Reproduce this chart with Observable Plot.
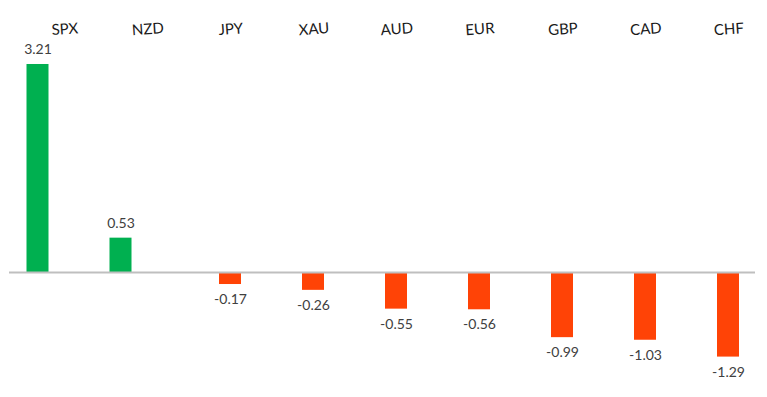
<!DOCTYPE html>
<html>
<head>
<meta charset="utf-8">
<script src="https://cdn.jsdelivr.net/npm/d3@7"></script>
<script src="https://cdn.jsdelivr.net/npm/@observablehq/plot@0.6"></script>
<style>
  html, body { margin: 0; padding: 0; background: #fff; }
  #chart { width: 767px; height: 397px; }
</style>
</head>
<body>
<div id="chart"></div>
<script>
const categories = ["SPX", "NZD", "JPY", "XAU", "AUD", "EUR", "GBP", "CAD", "CHF"];
const values = [3.21, 0.53, -0.17, -0.26, -0.55, -0.56, -0.99, -1.03, -1.29];
const valueLabels = ["3.21", "0.53", "-0.17", "-0.26", "-0.55", "-0.56", "-0.99", "-1.03", "-1.29"];

const data = categories.map((c, i) => ({cat: c, value: values[i], label: valueLabels[i]}));
const pos = data.filter(d => d.value >= 0);
const neg = data.filter(d => d.value < 0);

const FONT = "Lato, 'Open Sans', sans-serif";

const chart = Plot.plot({
  width: 767,
  height: 397,
  marginTop: 0,
  marginBottom: 0,
  marginLeft: 9,
  marginRight: 12,
  style: {fontFamily: FONT, background: "#fff"},
  x: {domain: categories, range: [11.5, 780.5], paddingInner: 0.735, paddingOuter: 0.5, axis: null},
  y: {domain: [-2, 4], range: [401.6, 12.8], axis: null},
  marks: [
    Plot.barY(pos, {x: "cat", y: "value", fill: "#00b050", dx: -26.5}),
    Plot.barY(neg, {x: "cat", y1: 0, y2: "value", fill: "#ff4306", dy: 1}),
    Plot.ruleY([0], {stroke: "#bfbfbf", strokeWidth: 2}),
    Plot.text(pos, {x: "cat", y: "value", text: "label", dx: -26.5, dy: -15, fill: "#404040", fontSize: 14, fontFamily: FONT}),
    Plot.text(neg, {x: "cat", y: "value", text: "label", dy: 16, fill: "#404040", fontSize: 14, fontFamily: FONT}),
    Plot.text(categories, {x: d => d, frameAnchor: "top", dy: 23, text: d => d, fill: "#1a1a1a", fontSize: 15, rotate: -4, fontFamily: FONT})
  ]
});
document.getElementById("chart").appendChild(chart);
</script>
</body>
</html>
